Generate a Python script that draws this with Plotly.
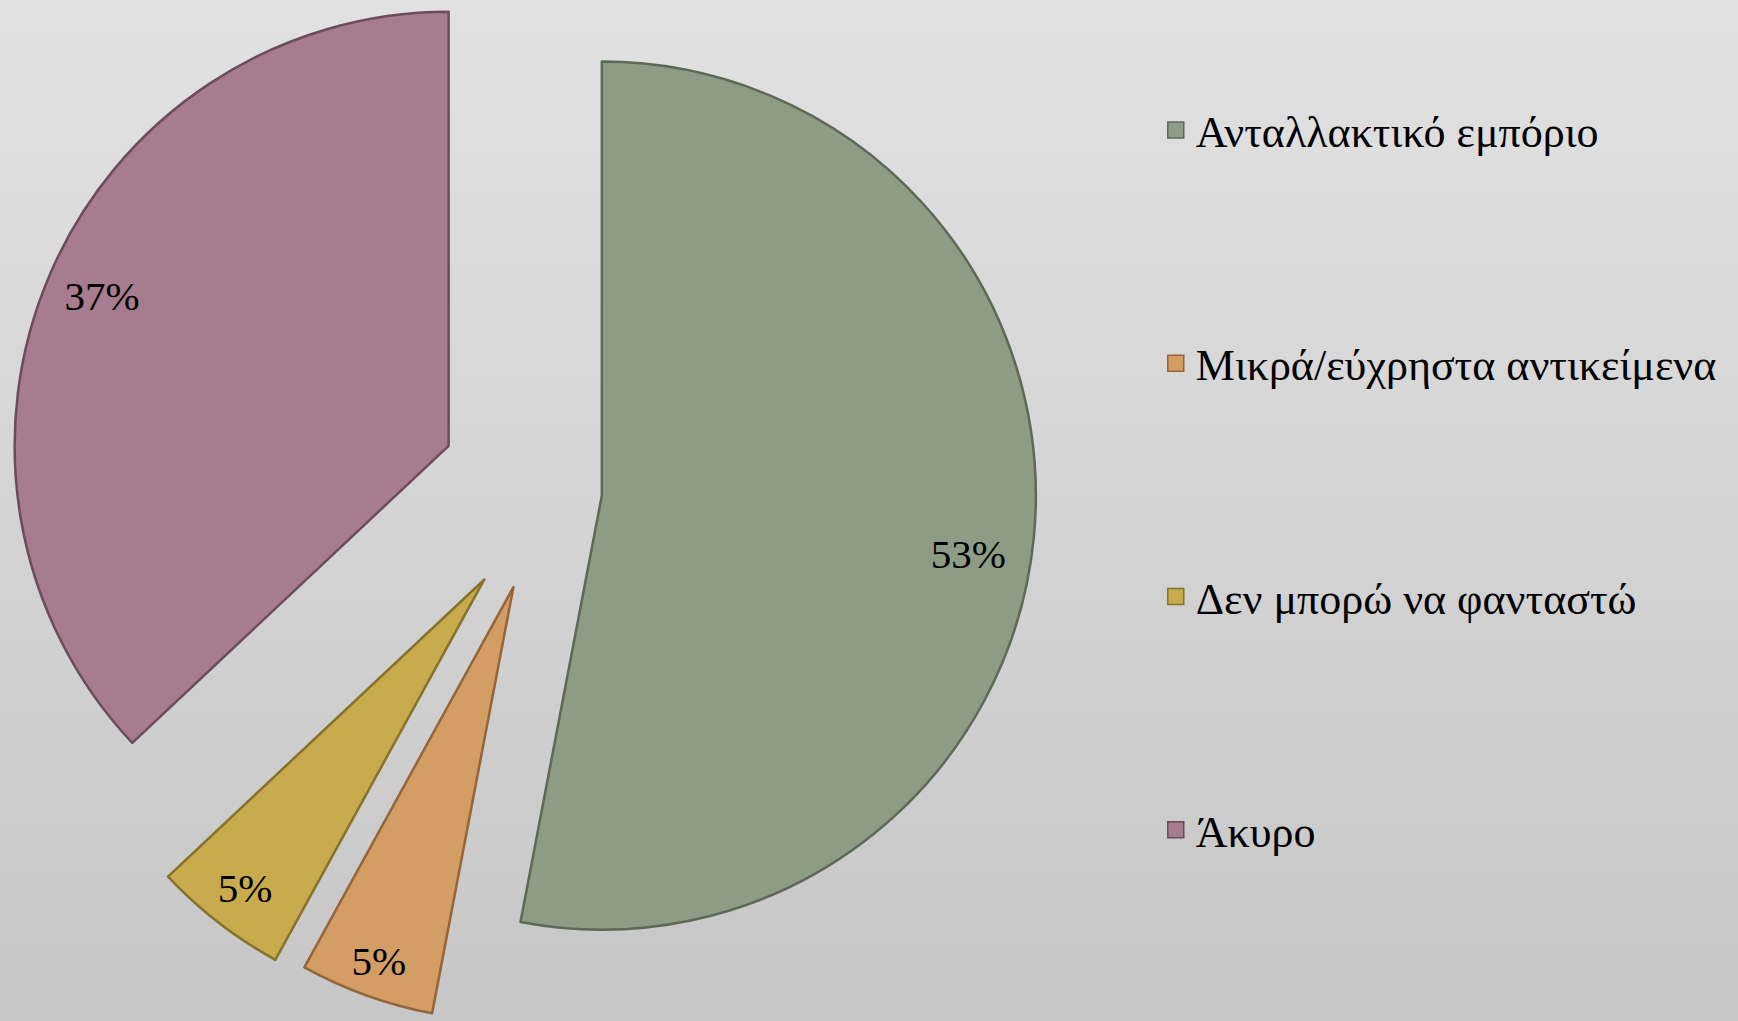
import numpy as np
import plotly.graph_objects as go

# ---- data ----
labels = ["Ανταλλακτικό εμπόριο", "Μικρά/εύχρηστα αντικείμενα", "Δεν μπορώ να φανταστώ", "Άκυρο"]
values = [53, 5, 5, 37]

# ---- styling ----
colors = ["#8e9c85", "#d49d64", "#c8ab4c", "#a77c8f"]
edge_colors = ["#5d6957", "#94653a", "#86722a", "#6c4c5b"]
explode = [0.113, 0.269, 0.258, 0.262]      # fraction of radius
label_hole = [0.71, 0.83, 0.80, 0.74]       # controls label distance from centre
label_rot = [3.6, 0, 0, 0]                  # small angular offset of label
FONT = "Liberation Serif"

W, H = 1738, 1021
R = 434
CX, CY = 553, 491

total = float(sum(values))
cum = np.cumsum([0] + values)
mid = (cum[:-1] + cum[1:]) / 2.0 / total * 2 * np.pi   # clockwise from 12 o'clock
pct_text = [f"{round(v / total * 100)}%" for v in values]

fig = go.Figure()

# background vertical gradient
N = 80
top, bot = np.array([226, 226, 226]), np.array([199, 199, 199])
shapes = []
for k in range(N):
    t = (k + 0.5) / N
    c = top * (1 - t) + bot * t
    shapes.append(dict(type="rect", xref="paper", yref="paper", x0=0, x1=1,
                       y0=1 - (k + 1) / N - 0.001, y1=1 - k / N + 0.001,
                       fillcolor=f"rgb({int(c[0])},{int(c[1])},{int(c[2])})",
                       line=dict(width=0), layer="below"))

transparent = "rgba(0,0,0,0)"
for i in range(len(values)):
    cx = CX + explode[i] * R * np.sin(mid[i])
    cy = CY - explode[i] * R * np.cos(mid[i])
    cy = min(max(cy, R), H - R)
    cx = min(max(cx, R), W - R)
    dom = dict(x=[max(0, (cx - R) / W), min(1, (cx + R) / W)],
               y=[max(0, (H - (cy + R)) / H), min(1, (H - (cy - R)) / H)])
    fig.add_trace(go.Pie(
        labels=labels, values=values, sort=False, direction="clockwise", rotation=0,
        marker=dict(colors=[colors[j] if j == i else transparent for j in range(len(values))],
                    line=dict(color=[edge_colors[j] if j == i else transparent for j in range(len(values))],
                              width=2.5)),
        textinfo="none", showlegend=False, domain=dom, hoverinfo="label+percent"))
    fig.add_trace(go.Pie(
        labels=labels, values=values, sort=False, direction="clockwise", rotation=label_rot[i],
        hole=label_hole[i],
        marker=dict(colors=[transparent] * len(values), line=dict(width=0)),
        text=[pct_text[j] if j == i else "" for j in range(len(values))],
        textinfo="text", textposition="inside", insidetextorientation="horizontal",
        insidetextfont=dict(family=FONT, size=41, color="black"),
        showlegend=False, domain=dom, hoverinfo="skip"))

# legend entries
for i in range(len(values)):
    fig.add_trace(go.Scatter(
        x=[None], y=[None], mode="markers", name=labels[i], legendgroup=f"g{i}",
        marker=dict(symbol="square", size=18, color=colors[i],
                    line=dict(color=edge_colors[i], width=1.5)),
        showlegend=True, hoverinfo="skip"))

fig.update_layout(
    width=W, height=H,
    margin=dict(l=0, r=0, t=0, b=0),
    paper_bgcolor="#d6d6d6", plot_bgcolor="rgba(0,0,0,0)",
    shapes=shapes,
    xaxis=dict(visible=False), yaxis=dict(visible=False),
    legend=dict(x=0.665, xanchor="left", y=0.907, yanchor="top",
                font=dict(family=FONT, size=44, color="black"),
                bgcolor="rgba(0,0,0,0)", tracegroupgap=173, itemwidth=30),
)

fig.write_html("out.html", config={"displayModeBar": False},
               post_script="document.body.style.margin='0px';")
